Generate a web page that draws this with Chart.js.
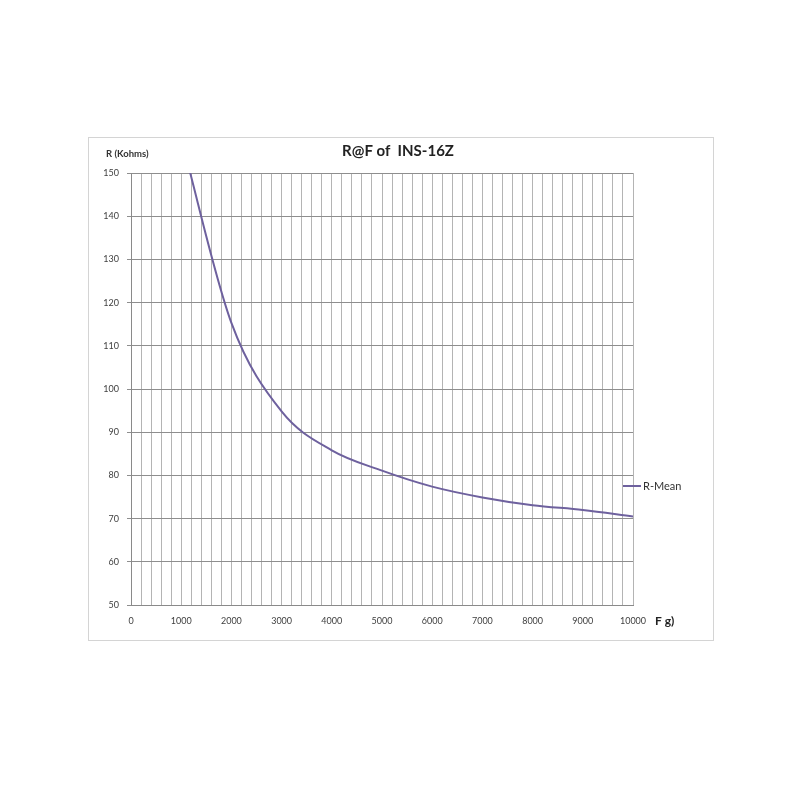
<!DOCTYPE html>
<html>
<head>
<meta charset="utf-8">
<script src="https://cdn.jsdelivr.net/npm/chart.js@4.4.0/dist/chart.umd.min.js"></script>
<style>
  html, body { margin: 0; padding: 0; background: #fff; }
  #wrap { width: 800px; height: 800px; }
</style>
</head>
<body>
<div id="wrap"><canvas id="rfChart" width="800" height="800"></canvas></div>
<script>
// data
const freqValues = [1000, 2000, 3000, 4000, 5000, 6000, 7000, 8000, 9000, 10000];
const rMean = [158, 115.3, 94.8, 85.8, 81.1, 77.4, 74.9, 73.1, 72, 70.5];
const seriesName = "R-Mean";
const chartTitle = "R@F of  INS-16Z";
const yAxisLabel = "R (Kohms)";
const xAxisLabel = "F g)";

const lineColor = "#6e619e";
const font = "Lato, 'Open Sans', sans-serif";

// extra text + frame, drawn on top of the chart
const extrasPlugin = {
  id: "extras",
  beforeDraw(chart) {
    const ctx = chart.ctx;
    ctx.save();
    ctx.fillStyle = "#fff";
    ctx.fillRect(0, 0, 800, 800);
    // outer chart frame
    ctx.strokeStyle = "#d4d4d4";
    ctx.lineWidth = 1;
    ctx.strokeRect(88.5, 137.5, 625, 503);
    ctx.restore();
  },
  afterDraw(chart) {
    const ctx = chart.ctx;
    const area = chart.chartArea;
    ctx.save();
    ctx.fillStyle = "#222";
    ctx.textBaseline = "middle";

    // title
    ctx.font = "bold 15px " + font;
    ctx.textAlign = "center";
    ctx.fillText(chartTitle, 398, 151);

    // y axis label
    ctx.font = "bold 9.5px " + font;
    ctx.textAlign = "left";
    ctx.fillStyle = "#333";
    ctx.fillText(yAxisLabel, 106, 154);

    // x axis label
    ctx.font = "bold 12px " + font;
    ctx.fillStyle = "#222";
    ctx.fillText(xAxisLabel, area.right + 22, 621);

    // legend
    ctx.strokeStyle = lineColor;
    ctx.lineWidth = 2;
    ctx.beginPath();
    ctx.moveTo(623, 486);
    ctx.lineTo(641, 486);
    ctx.stroke();
    ctx.font = "11px " + font;
    ctx.fillStyle = "#333";
    ctx.fillText(chart.data.datasets[0].label, 643, 486);
    ctx.restore();
  },
};

const rfChart = new Chart(document.getElementById("rfChart"), {
  type: "line",
  data: {
    datasets: [
      {
        label: seriesName,
        data: freqValues.map((f, i) => ({ x: f, y: rMean[i] })),
        borderColor: lineColor,
        borderWidth: 2,
        cubicInterpolationMode: "monotone",
        pointRadius: 0,
        fill: false,
      },
    ],
  },
  options: {
    responsive: false,
    animation: false,
    layout: { padding: { left: 88, right: 167, top: 173, bottom: 165 } },
    plugins: {
      legend: { display: false },
      title: { display: false },
      tooltip: { enabled: false },
    },
    scales: {
      x: {
        type: "linear",
        min: 0,
        max: 10000,
        afterFit: (scale) => { scale.height = 30; },
        grid: { color: "#b4b4b4", lineWidth: 1, drawTicks: false },
        border: { color: "#8a8a8a" },
        ticks: {
          stepSize: 200,
          autoSkip: false,
          maxRotation: 0,
          padding: 11,
          color: "#404040",
          font: { family: font, size: 9 },
          callback: (v) => (v % 1000 === 0 ? String(v) : ""),
        },
      },
      y: {
        min: 50,
        max: 150,
        afterFit: (scale) => { scale.width = 43; },
        grid: { color: "#8e8e8e", lineWidth: 1, tickLength: 4 },
        border: { color: "#8a8a8a" },
        ticks: {
          stepSize: 10,
          padding: 8,
          color: "#404040",
          font: { family: font, size: 9 },
        },
      },
    },
  },
  plugins: [extrasPlugin],
});
</script>
</body>
</html>
